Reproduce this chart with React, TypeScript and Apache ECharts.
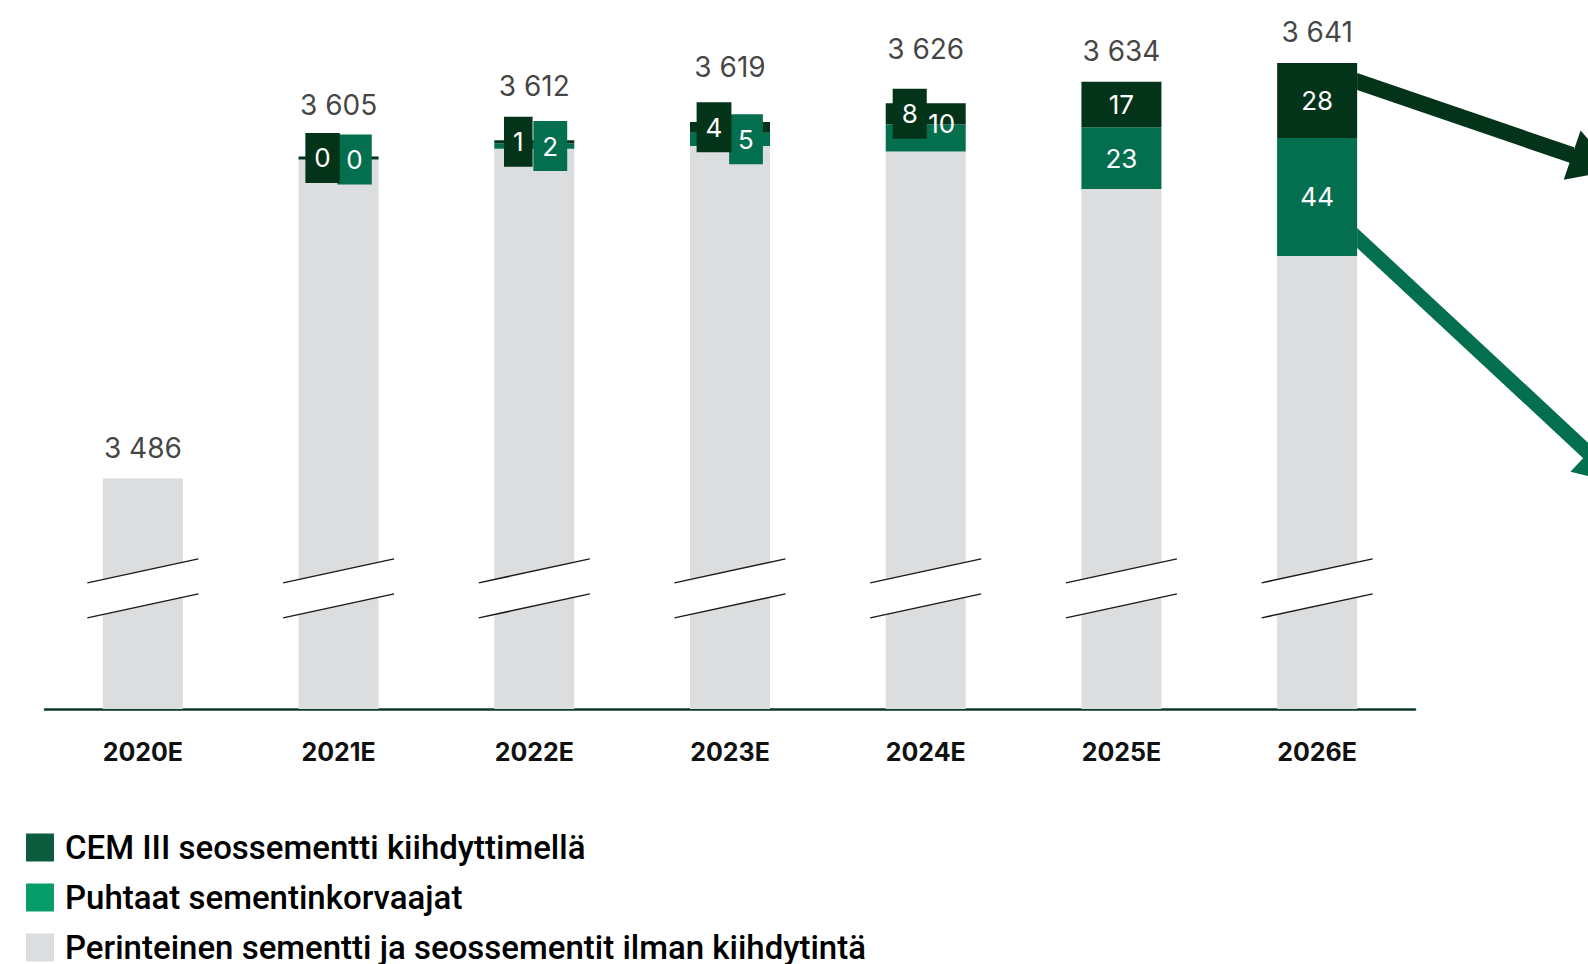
import React, { useEffect, useRef } from "react";
import * as echarts from "echarts";

const categories = ["2020E", "2021E", "2022E", "2023E", "2024E", "2025E", "2026E"];
const totals = [3486, 3605, 3612, 3619, 3626, 3634, 3641];
const conventional = [3486, 3605, 3609, 3610, 3608, 3594, 3569];
const pureReplacements: (number | null)[] = [null, 0, 2, 5, 10, 23, 44];
const cem3: (number | null)[] = [null, 0, 1, 4, 8, 17, 28];

const NAME_CEM = "CEM III seossementti kiihdyttimellä";
const NAME_PURE = "Puhtaat sementinkorvaajat";
const NAME_CONV = "Perinteinen sementti ja seossementit ilman kiihdytintä";

const DARK = "#03341a";
const GREEN = "#046f4f";
const GREY = "#dcdddf";

const legendItems = [
  { name: NAME_CEM, color: "#0b5b3d" },
  { name: NAME_PURE, color: "#079d6a" },
  { name: NAME_CONV, color: GREY },
];

const fmt = (v: number) => {
  const s = String(v);
  return s.length > 3 ? s.slice(0, s.length - 3) + " " + s.slice(-3) : s;
};

export default function App() {
  const ref = useRef<HTMLDivElement>(null);
  useEffect(() => {
    const chart = echarts.init(ref.current!, null, { renderer: "svg" });
    const numFont = "Inter";
    const boxed = (v: number | null, dx: number, bg: string) =>
      v === null
        ? null
        : v < 10
        ? {
            value: v,
            label: {
              backgroundColor: bg,
              padding: [12, 9],
              lineHeight: 26,
              offset: [dx, 0],
            },
          }
        : { value: v, label: v < 15 ? { offset: [dx, -14] } : {} };

    const option: any = {
      animation: false,
      grid: { left: 45, right: 173, top: 12, bottom: 255, containLabel: false },
      xAxis: {
        type: "category",
        data: categories,
        axisLine: { show: true, lineStyle: { color: "#0d3a24", width: 2.5 } },
        axisTick: { show: false },
        axisLabel: {
          fontFamily: numFont,
          fontWeight: 700,
          fontSize: 25,
          color: "#111",
          margin: 30,
        },
      },
      yAxis: {
        type: "value",
        min: 3400,
        max: 3660,
        show: false,
        splitLine: { show: false },
      },
      legend: legendItems.map((it, i) => ({
        orient: "vertical",
        left: 26,
        top: 831 + i * 50,
        padding: 0,
        itemWidth: 28,
        itemHeight: 28,
        itemGap: 22,
        icon: "rect",
        selectedMode: false,
        textStyle: {
          fontFamily: "Roboto",
          fontSize: 33,
          fontWeight: 500,
          color: "#000",
          lineHeight: 28,
          padding: [0, 0, 0, 6],
        },
        data: [{ name: it.name, itemStyle: { color: it.color } }],
      })),
      series: [
        {
          name: NAME_CONV,
          type: "bar",
          stack: "s",
          barWidth: 80,
          itemStyle: { color: GREY },
          data: conventional,
          silent: true,
        },
        {
          name: NAME_PURE,
          type: "bar",
          stack: "s",
          barWidth: 80,
          itemStyle: { color: GREEN },
          data: pureReplacements.map((v) => boxed(v, 16, GREEN)),
          label: {
            show: true,
            position: "inside",
            color: "#fff",
            fontFamily: numFont,
            fontSize: 26,
          },
          silent: true,
        },
        {
          name: NAME_CEM,
          type: "bar",
          stack: "s",
          barWidth: 80,
          barMinHeight: 3,
          itemStyle: { color: DARK },
          data: cem3.map((v) => boxed(v, -16, DARK)),
          label: {
            show: true,
            position: "inside",
            color: "#fff",
            fontFamily: numFont,
            fontSize: 26,
          },
          silent: true,
        },
        {
          name: "total",
          type: "scatter",
          symbolSize: 1,
          itemStyle: { color: "rgba(0,0,0,0)" },
          silent: true,
          data: totals.map((t, i) => ({
            value: t,
            label: { distance: cem3[i] !== null && (cem3[i] as number) < 10 ? 40 : 16 },
          })),
          label: {
            show: true,
            position: "top",
            color: "#111",
            fontFamily: numFont,
            fontSize: 28,
            formatter: (p: any) => fmt(p.value),
          },
        },
      ],
    };
    chart.setOption(option);

    const graphics: any[] = [];
    categories.forEach((c, i) => {
      const [cx, yc] = chart.convertToPixel({ gridIndex: 0 } as any, [i, 3445]);
      const half = 17.5;
      const dl = 12;
      const x1 = cx - 55.5;
      const x2 = cx + 55.5;
      graphics.push({
        type: "polygon",
        z: 100,
        shape: {
          points: [
            [x1, yc - half + dl],
            [x2, yc - half - dl],
            [x2, yc + half - dl],
            [x1, yc + half + dl],
          ],
        },
        style: { fill: "#fff" },
      });
      graphics.push({
        type: "line",
        z: 101,
        shape: { x1, y1: yc - half + dl, x2, y2: yc - half - dl },
        style: { stroke: "#1a1a1a", lineWidth: 1.5 },
      });
      graphics.push({
        type: "line",
        z: 101,
        shape: { x1, y1: yc + half + dl, x2, y2: yc + half - dl },
        style: { stroke: "#1a1a1a", lineWidth: 1.5 },
      });
    });

    // arrows from the last bar
    const last = categories.length - 1;
    const [lcx, ltop] = chart.convertToPixel({ gridIndex: 0 } as any, [last, totals[last]]);
    const x0 = lcx + 40;
    const arrow = (yt: number, yb: number, s: number, L: number, color: string) => {
      const norm = Math.sqrt(1 + s * s);
      const d = [1 / norm, s / norm];
      const n = [-s / norm, 1 / norm];
      const ym = (yt + yb) / 2;
      const bc = [x0 + L, ym + L * s];
      const hw = 26;
      const hl = 46;
      graphics.push({
        type: "polygon",
        z: 110,
        shape: {
          points: [
            [x0, yt],
            [x0 + L + 2, yt + (L + 2) * s],
            [x0 + L + 2, yb + (L + 2) * s],
            [x0, yb],
          ],
        },
        style: { fill: color },
      });
      graphics.push({
        type: "polygon",
        z: 110,
        shape: {
          points: [
            [bc[0] + hw * n[0], bc[1] + hw * n[1]],
            [bc[0] - hw * n[0], bc[1] - hw * n[1]],
            [bc[0] + hl * d[0], bc[1] + hl * d[1]],
          ],
        },
        style: { fill: color },
      });
    };
    arrow(ltop + 10, ltop + 27, 0.343, 215, DARK);
    arrow(ltop + 165, ltop + 185, 0.93, 231, GREEN);

    chart.setOption({ graphic: graphics });
    return () => chart.dispose();
  }, []);

  return (
    <div
      ref={ref}
      style={{ position: "absolute", left: 0, top: 0, width: 1588, height: 964, background: "#fff" }}
    />
  );
}
